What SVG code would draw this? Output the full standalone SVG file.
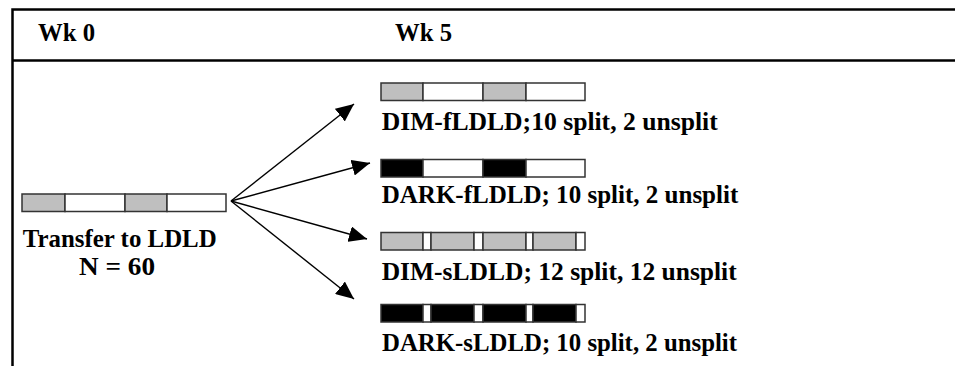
<svg xmlns="http://www.w3.org/2000/svg" width="955" height="366" viewBox="0 0 955 366">
<style>
text{font-family:"Liberation Serif","Times New Roman",serif;font-weight:bold;font-size:25px;fill:#000}
.frame{fill:none;stroke:#000;stroke-width:2.5}
.seg{stroke:#333;stroke-width:1.5}
.g{fill:#bfbfbf}
.w{fill:#fff}
.k{fill:#000}
.conn{fill:none;stroke:#000;stroke-width:1.4}
</style>
<defs>
<marker id="ah" markerUnits="userSpaceOnUse" markerWidth="20" markerHeight="16" refX="18" refY="8" orient="auto">
<path d="M0,0 L18,8 L0,16 Z" fill="#000"/>
</marker>
</defs>
<rect width="955" height="366" fill="#fff"/>
<g id="frame">
<path class="frame" d="M956,9.5 H12.5 V367"/>
<path class="frame" d="M12.5,60.5 H956"/>
<text x="38" y="41" textLength="57" lengthAdjust="spacingAndGlyphs">Wk 0</text>
<text x="395" y="41" textLength="57" lengthAdjust="spacingAndGlyphs">Wk 5</text>
</g>
<g id="start">
<rect class="seg g" x="22" y="194" width="43" height="17.5"/>
<rect class="seg w" x="65" y="194" width="60" height="17.5"/>
<rect class="seg g" x="125" y="194" width="42" height="17.5"/>
<rect class="seg w" x="167" y="194" width="59" height="17.5"/>
<text x="22.7" y="247" textLength="194" lengthAdjust="spacingAndGlyphs">Transfer to LDLD</text>
<text x="79" y="275" textLength="76" lengthAdjust="spacingAndGlyphs">N = 60</text>
</g>
<g id="dim-f">
<rect class="seg g" x="381" y="83" width="42" height="17.5"/>
<rect class="seg w" x="423" y="83" width="60" height="17.5"/>
<rect class="seg g" x="483" y="83" width="43" height="17.5"/>
<rect class="seg w" x="526" y="83" width="59" height="17.5"/>
<text x="381.7" y="130" textLength="336" lengthAdjust="spacingAndGlyphs">DIM-fLDLD;10 split, 2 unsplit</text>
</g>
<g id="dark-f">
<rect class="seg k" x="381" y="159.5" width="42" height="17.5"/>
<rect class="seg w" x="423" y="159.5" width="60" height="17.5"/>
<rect class="seg k" x="483" y="159.5" width="43" height="17.5"/>
<rect class="seg w" x="526" y="159.5" width="59" height="17.5"/>
<text x="381.7" y="203" textLength="356.6" lengthAdjust="spacingAndGlyphs">DARK-fLDLD; 10 split, 2 unsplit</text>
</g>
<g id="dim-s">
<rect class="seg g" x="381" y="232.5" width="42" height="17.5"/>
<rect class="seg w" x="423" y="232.5" width="8" height="17.5"/>
<rect class="seg g" x="431" y="232.5" width="43" height="17.5"/>
<rect class="seg w" x="474" y="232.5" width="9" height="17.5"/>
<rect class="seg g" x="483" y="232.5" width="43" height="17.5"/>
<rect class="seg w" x="526" y="232.5" width="7" height="17.5"/>
<rect class="seg g" x="533" y="232.5" width="43" height="17.5"/>
<rect class="seg w" x="576" y="232.5" width="9" height="17.5"/>
<text x="381.7" y="280" textLength="355" lengthAdjust="spacingAndGlyphs">DIM-sLDLD; 12 split, 12 unsplit</text>
</g>
<g id="dark-s">
<rect class="seg k" x="381" y="304.5" width="42" height="17.5"/>
<rect class="seg w" x="423" y="304.5" width="8" height="17.5"/>
<rect class="seg k" x="431" y="304.5" width="43" height="17.5"/>
<rect class="seg w" x="474" y="304.5" width="9" height="17.5"/>
<rect class="seg k" x="483" y="304.5" width="43" height="17.5"/>
<rect class="seg w" x="526" y="304.5" width="7" height="17.5"/>
<rect class="seg k" x="533" y="304.5" width="43" height="17.5"/>
<rect class="seg w" x="576" y="304.5" width="9" height="17.5"/>
<text x="382" y="351" textLength="355" lengthAdjust="spacingAndGlyphs">DARK-sLDLD; 10 split, 2 unsplit</text>
</g>
<g id="connectors">
<line class="conn" x1="231" y1="201" x2="354" y2="104" marker-end="url(#ah)"/>
<line class="conn" x1="231" y1="201" x2="370" y2="163" marker-end="url(#ah)"/>
<line class="conn" x1="231" y1="201" x2="367" y2="239" marker-end="url(#ah)"/>
<line class="conn" x1="231" y1="201" x2="354" y2="299" marker-end="url(#ah)"/>
</g>
</svg>
